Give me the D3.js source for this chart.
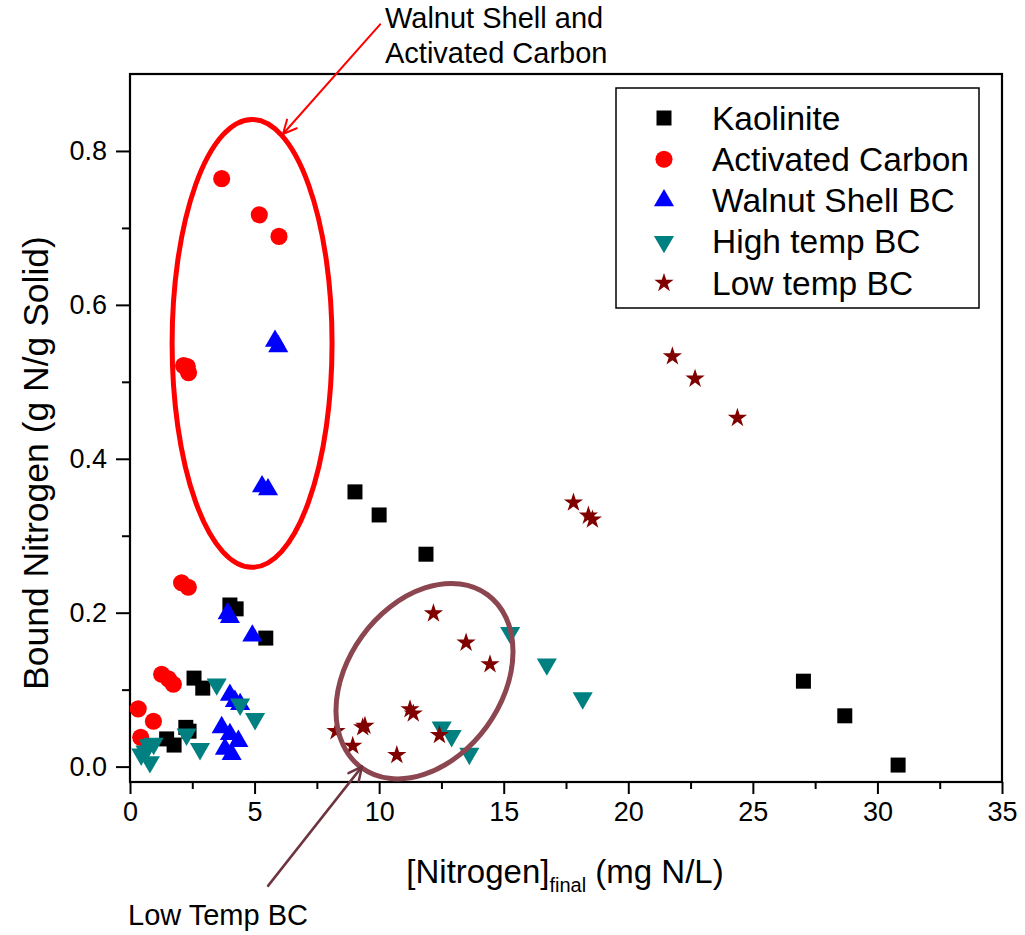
<!DOCTYPE html>
<html>
<head>
<meta charset="utf-8">
<script src="https://cdn.jsdelivr.net/npm/d3@7"></script>
<style>
  html, body { margin: 0; padding: 0; background: #fff; }
  svg { display: block; }
  text { font-family: "Liberation Sans", Arial, sans-serif; fill: #000; }
</style>
</head>
<body>
<div id="chart"></div>
<script>
// Nitrogen sorption: final solution concentration vs. nitrogen bound to solid
const seriesNames = ["Kaolinite", "Activated Carbon", "Walnut Shell BC", "High temp BC", "Low temp BC"];

const kaoliniteX = [9.03, 10.0, 11.88, 4.01, 4.26, 5.45, 2.57, 2.92, 2.24, 2.37, 1.47, 1.77, 27.03, 28.69, 30.83];
const kaoliniteY = [0.357, 0.327, 0.276, 0.210, 0.205, 0.167, 0.115, 0.102, 0.051, 0.046, 0.036, 0.028, 0.111, 0.066, 0.002];

const activatedX = [3.68, 5.19, 5.98, 2.15, 2.30, 2.35, 2.07, 2.34, 1.27, 1.54, 1.74, 0.33, 0.94, 0.43];
const activatedY = [0.764, 0.717, 0.689, 0.521, 0.520, 0.512, 0.239, 0.233, 0.120, 0.114, 0.107, 0.075, 0.059, 0.038];

const walnutX = [5.82, 5.95, 5.30, 5.54, 3.92, 4.01, 4.91, 4.01, 4.21, 4.42, 3.68, 4.01, 4.35, 3.81, 4.08];
const walnutY = [0.553, 0.546, 0.364, 0.360, 0.199, 0.194, 0.170, 0.093, 0.085, 0.081, 0.051, 0.042, 0.033, 0.023, 0.016];

const highTempX = [15.26, 16.73, 18.17, 12.51, 12.91, 13.62, 3.48, 4.42, 5.02, 2.27, 2.81, 0.45, 0.62, 0.75, 0.80, 0.95];
const highTempY = [0.174, 0.133, 0.089, 0.051, 0.040, 0.017, 0.107, 0.081, 0.062, 0.042, 0.023, 0.016, 0.020, 0.028, 0.006, 0.030];

const lowTempX = [21.77, 22.68, 24.38, 17.80, 18.40, 18.56, 12.18, 13.49, 14.45, 11.24, 11.37, 9.43, 9.34, 8.27, 8.94, 10.71, 12.42];
const lowTempY = [0.533, 0.504, 0.453, 0.343, 0.326, 0.321, 0.199, 0.161, 0.133, 0.0745, 0.069, 0.053, 0.051, 0.046, 0.027, 0.015, 0.041];

const xTicks = [0, 5, 10, 15, 20, 25, 30, 35];
const xMinorTicks = [2.5, 7.5, 12.5, 17.5, 22.5, 27.5, 32.5];
const yTicks = [0.0, 0.2, 0.4, 0.6, 0.8];
const yMinorTicks = [0.1, 0.3, 0.5, 0.7];

const W = 1025, H = 935;
const margin = { left: 130, right: 23, top: 74, bottom: 153 };

const svg = d3.select("#chart").append("svg").attr("width", W).attr("height", H);

const x = d3.scaleLinear().domain([0, 35]).range([margin.left, W - margin.right]);
const y = d3.scaleLinear().domain([-0.02, 0.9]).range([H - margin.bottom, margin.top]);

const series = [
  { name: seriesNames[0], xs: kaoliniteX, ys: kaoliniteY, type: d3.symbolSquare, size: 225, color: "#000000", rot: 0 },
  { name: seriesNames[1], xs: activatedX, ys: activatedY, type: d3.symbolCircle, size: 230, color: "#ff0000", rot: 0 },
  { name: seriesNames[2], xs: walnutX, ys: walnutY, type: d3.symbolTriangle, size: 175, color: "#0000ff", rot: 0 },
  { name: seriesNames[3], xs: highTempX, ys: highTempY, type: d3.symbolTriangle, size: 175, color: "#008080", rot: 180 },
  { name: seriesNames[4], xs: lowTempX, ys: lowTempY, type: d3.symbolStar, size: 115, color: "#800000", rot: 0 }
];

// Axes: ticks pointing outward on bottom and left
const tickFont = "27px";
const xAxis = svg.append("g").attr("transform", `translate(0,${y.range()[0]})`)
  .call(d3.axisBottom(x).tickValues(xTicks).tickFormat(d3.format("d")).tickSize(12).tickPadding(8));
const xMinor = svg.append("g").attr("transform", `translate(0,${y.range()[0]})`)
  .call(d3.axisBottom(x).tickValues(xMinorTicks).tickFormat("").tickSize(7));
const yAxis = svg.append("g").attr("transform", `translate(${x.range()[0]},0)`)
  .call(d3.axisLeft(y).tickValues(yTicks).tickFormat(d3.format(".1f")).tickSize(14).tickPadding(9));
const yMinor = svg.append("g").attr("transform", `translate(${x.range()[0]},0)`)
  .call(d3.axisLeft(y).tickValues(yMinorTicks).tickFormat("").tickSize(8));

[xAxis, xMinor, yAxis, yMinor].forEach(g => {
  g.select(".domain").remove();
  g.selectAll(".tick line").attr("stroke", "#000").attr("stroke-width", 2);
  g.selectAll(".tick text").style("font-size", tickFont).style("font-family", "'Liberation Sans', Arial, sans-serif").attr("fill", "#000");
});

// Frame
svg.append("rect")
  .attr("x", x.range()[0]).attr("y", y.range()[1])
  .attr("width", x.range()[1] - x.range()[0]).attr("height", y.range()[0] - y.range()[1])
  .attr("fill", "none").attr("stroke", "#000").attr("stroke-width", 2.2);

// Data points
series.forEach(s => {
  const pts = s.xs.map((v, i) => [v, s.ys[i]]);
  svg.append("g").selectAll("path").data(pts).join("path")
    .attr("d", d3.symbol().type(s.type).size(s.size))
    .attr("transform", d => `translate(${x(d[0])},${y(d[1])}) rotate(${s.rot})`)
    .attr("fill", s.color);
});

// Annotation: ellipse around walnut shell and activated carbon points
const redEllipse = { cx: 4.9, cy: 0.55, rx: 3.21, ry: 0.291 };
svg.append("ellipse")
  .attr("cx", x(redEllipse.cx)).attr("cy", y(redEllipse.cy))
  .attr("rx", x(redEllipse.rx) - x(0)).attr("ry", y(0) - y(redEllipse.ry))
  .attr("fill", "none").attr("stroke", "#ff0000").attr("stroke-width", 5);

// Annotation: tilted ellipse around low temperature biochar points
const brownEllipse = { cx: 11.82, cy: 0.111, a: 107, b: 77, angle: -54 };
svg.append("ellipse")
  .attr("cx", 0).attr("cy", 0).attr("rx", brownEllipse.a).attr("ry", brownEllipse.b)
  .attr("transform", `translate(${x(brownEllipse.cx)},${y(brownEllipse.cy)}) rotate(${brownEllipse.angle})`)
  .attr("fill", "none").attr("stroke", "#8b4650").attr("stroke-width", 5);

function arrow(x1, y1, x2, y2, color, width) {
  const g = svg.append("g").attr("stroke", color).attr("stroke-width", width).attr("fill", "none").attr("stroke-linecap", "round");
  g.append("line").attr("x1", x1).attr("y1", y1).attr("x2", x2).attr("y2", y2);
  const ang = Math.atan2(y2 - y1, x2 - x1);
  const len = 15, spread = Math.PI / 7;
  [ang + Math.PI - spread, ang + Math.PI + spread].forEach(a => {
    g.append("line").attr("x1", x2).attr("y1", y2)
      .attr("x2", x2 + len * Math.cos(a)).attr("y2", y2 + len * Math.sin(a));
  });
}

arrow(x(10.04), y(0.9645), x(6.14), y(0.822), "#ff0000", 2);
arrow(x(5.54), y(-0.155), x(9.31), y(0.0), "#6e3540", 2.5);

svg.append("text").attr("x", 385).attr("y", 28).style("font-size", "29px").text("Walnut Shell and");
svg.append("text").attr("x", 385).attr("y", 63).style("font-size", "29px").text("Activated Carbon");
svg.append("text").attr("x", 128).attr("y", 925).style("font-size", "29px").text("Low Temp BC");

// Axis titles
const xTitle = svg.append("text")
  .attr("x", (x.range()[0] + x.range()[1]) / 2 - 1)
  .attr("y", 883)
  .attr("text-anchor", "middle")
  .style("font-size", "33px");
xTitle.append("tspan").text("[Nitrogen]");
xTitle.append("tspan").attr("dy", 9).style("font-size", "20px").text("final");
xTitle.append("tspan").attr("dy", -9).text(" (mg N/L)");

svg.append("text")
  .attr("transform", `translate(48,${(y.range()[0] + y.range()[1]) / 2 + 35}) rotate(-90)`)
  .attr("text-anchor", "middle")
  .style("font-size", "35.5px")
  .text("Bound Nitrogen (g N/g Solid)");

// Legend
const legend = svg.append("g");
legend.append("rect").attr("x", 616).attr("y", 88).attr("width", 363).attr("height", 220)
  .attr("fill", "#fff").attr("stroke", "#000").attr("stroke-width", 1.5);
const rowY = d3.scalePoint().domain(seriesNames).range([118, 283]);
series.forEach(s => {
  legend.append("path")
    .attr("d", d3.symbol().type(s.type).size(s.size))
    .attr("transform", `translate(664,${rowY(s.name)}) rotate(${s.rot})`)
    .attr("fill", s.color);
  legend.append("text").attr("x", 712).attr("y", rowY(s.name))
    .attr("dominant-baseline", "central")
    .style("font-size", "33.5px").text(s.name);
});
</script>
</body>
</html>
